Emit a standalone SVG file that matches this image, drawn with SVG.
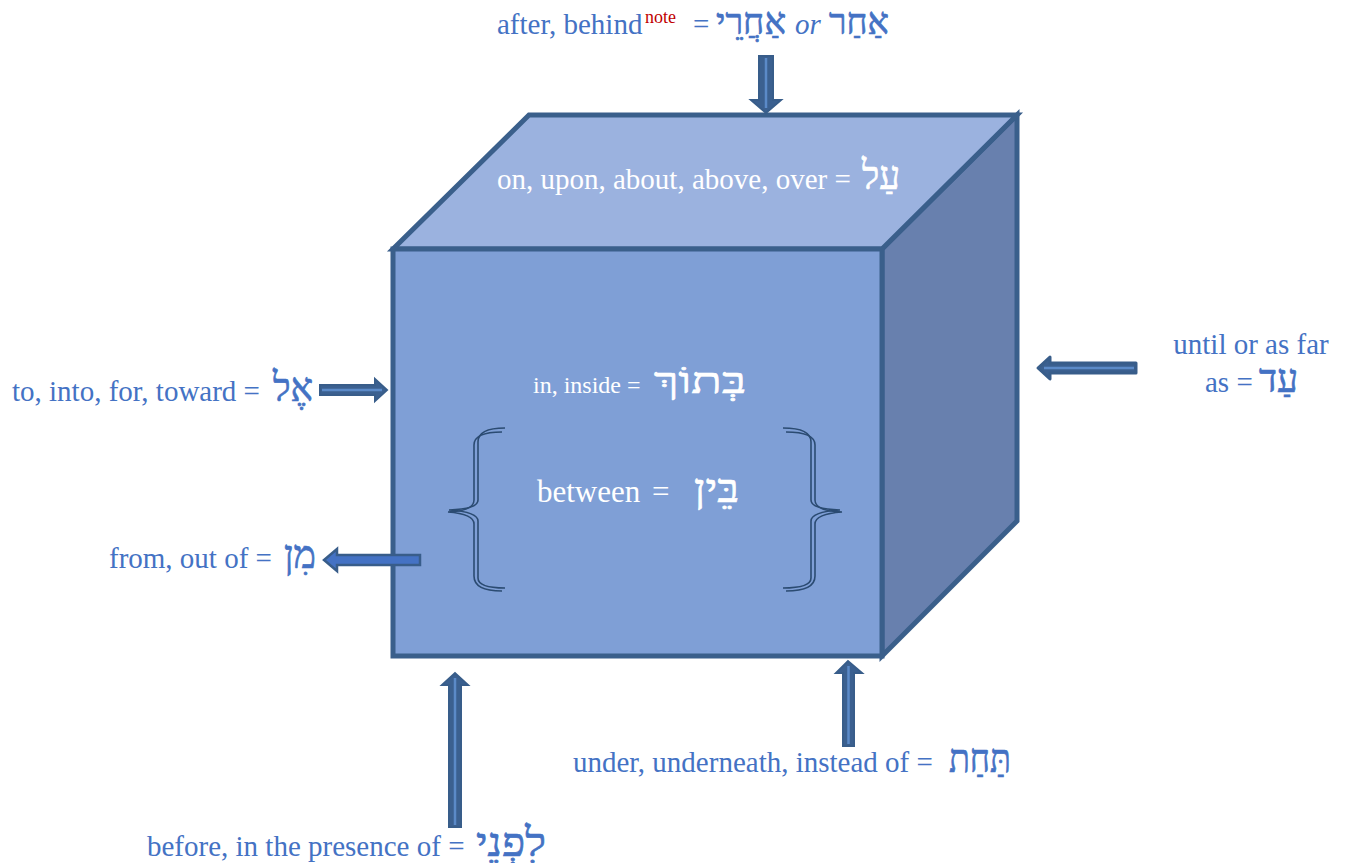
<svg xmlns="http://www.w3.org/2000/svg" width="1347" height="863" viewBox="0 0 1347 863">
  <style>
    .lbl { font-family: "Liberation Serif", "Times New Roman", serif; font-size: 29px; fill: #4472C4; }
    .in { font-family: "Liberation Serif", "Times New Roman", serif; font-size: 29px; fill: #FFFFFF; }
    .heb { font-family: "Liberation Serif", "DejaVu Serif", serif; font-size: 40px; stroke-width: 0.7; }
    .lbl.heb { stroke: #4472C4; }
    .in.heb { stroke: #FFFFFF; }
    .face { stroke: #3A5F8B; stroke-width: 5; stroke-linejoin: miter; }
    .arrow { fill: #3B6090; stroke: #385D8A; stroke-width: 2; stroke-linejoin: miter; }
    .core { stroke: #5B8AC8; stroke-width: 2.5; fill: none; }
    .brace { fill: none; stroke: #2B4B72; stroke-width: 1.6; }
  </style>
  <rect width="1347" height="863" fill="#FFFFFF"/>

  <!-- the cube -->
  <g id="cube">
    <polygon class="face" points="882,249 1017,115 1017,521 882,656" fill="#6880AE"/>
    <polygon class="face" points="393,249 529,115 1017,115 882,249" fill="#9BB2DF"/>
    <rect class="face" x="393" y="249" width="489" height="407" fill="#7F9FD6"/>
  </g>

  <!-- labels on the cube -->
  <g id="top-face">
    <text class="in" x="497" y="189">on, upon, about, above, over =</text>
    <text class="in heb" x="900" y="189" text-anchor="end" textLength="38" lengthAdjust="spacingAndGlyphs">עַל</text>
  </g>
  <g id="inside">
    <text class="in" x="533" y="393" style="font-size:24px">in, inside =</text>
    <text class="in heb" x="746" y="393" text-anchor="end" textLength="92" lengthAdjust="spacingAndGlyphs" style="font-size:36px">בְּתוֹךְ</text>
  </g>
  <g id="between">
    <path class="brace" d="M505,428 Q478,428 478,442 L478,500 Q478,509 449,510 Q478,512 478,521 L478,578 Q478,588 505,588"/>
    <path class="brace" d="M502,432 Q474,432 474,445 L474,500 Q474,511 448,512 Q474,514 474,524 L474,576 Q474,591 502,591"/>
    <path class="brace" d="M783,428 Q811,428 811,442 L811,500 Q811,509 840,510 Q811,512 811,521 L811,578 Q811,588 783,588"/>
    <path class="brace" d="M786,432 Q815,432 815,445 L815,500 Q815,511 842,512 Q815,514 815,524 L815,576 Q815,591 786,591"/>
    <text class="in" x="537" y="502" style="font-size:31px">between</text>
    <text class="in" x="652" y="502" style="font-size:31px">=</text>
    <text class="in heb" x="739" y="502" text-anchor="end" textLength="45" lengthAdjust="spacingAndGlyphs">בֵּין</text>
  </g>

  <!-- connectors -->
  <g id="connectors">
    <!-- down onto the top face -->
    <polygon class="arrow" points="759,56 773,56 773,100 781,100 766,113 751,100 759,100"/>
    <line class="core" x1="766" y1="58" x2="766" y2="108"/>
    <!-- into the front face -->
    <polygon class="arrow" points="320,385 375,385 375,379 387,390 375,401 375,395 320,395"/>
    <line class="core" x1="322" y1="390" x2="382" y2="390"/>
    <!-- out of the front face -->
    <polygon class="arrow" points="420,555 337,555 337,549 324,560 337,571 337,565 420,565" style="fill:#4472C4;stroke-width:2.5"/>
    <!-- toward the right face -->
    <path class="arrow" d="M1136,363 L1050,363 L1050,357 L1038,368 L1050,379 L1050,373 L1136,373 Z" style="stroke-linejoin:round;stroke-width:3"/>
    <line class="core" x1="1134" y1="368" x2="1044" y2="368"/>
    <!-- up from below, front -->
    <polygon class="arrow" points="449,827 461,827 461,685 468,685 455,673 442,685 449,685"/>
    <line class="core" x1="455" y1="825" x2="455" y2="678"/>
    <!-- up from below, under -->
    <polygon class="arrow" points="843,746 854,746 854,673 862,673 848,661 836,673 843,673"/>
    <line class="core" x1="848.5" y1="744" x2="848.5" y2="666"/>
  </g>

  <!-- outer labels -->
  <g id="after">
    <text class="lbl" x="497" y="34">after, behind</text>
    <text x="645" y="23" style="font-family:'Liberation Serif',serif;font-size:18px;fill:#C00000">note</text>
    <text class="lbl" x="693" y="34">=</text>
    <text class="lbl heb" x="786" y="34" text-anchor="end" textLength="70" lengthAdjust="spacingAndGlyphs" style="font-size:37px">אַחֲרֵי</text>
    <text class="lbl" x="795" y="34" style="font-style:italic">or</text>
    <text class="lbl heb" x="889" y="34" text-anchor="end" textLength="60" lengthAdjust="spacingAndGlyphs" style="font-size:37px">אַחַר</text>
  </g>
  <g id="to">
    <text class="lbl" x="12" y="401">to, into, for, toward =</text>
    <text class="lbl heb" x="313" y="401" text-anchor="end" textLength="40" lengthAdjust="spacingAndGlyphs">אֶל</text>
  </g>
  <g id="from">
    <text class="lbl" x="109" y="568">from, out of =</text>
    <text class="lbl heb" x="316" y="568" text-anchor="end" textLength="32" lengthAdjust="spacingAndGlyphs">מִן</text>
  </g>
  <g id="until">
    <text class="lbl" x="1251" y="354" text-anchor="middle">until or as far</text>
    <text class="lbl" x="1205" y="392">as =</text>
    <text class="lbl heb" x="1298" y="392" text-anchor="end" textLength="39" lengthAdjust="spacingAndGlyphs">עַד</text>
  </g>
  <g id="under">
    <text class="lbl" x="573" y="772">under, underneath, instead of =</text>
    <text class="lbl heb" x="1011" y="772" text-anchor="end" textLength="62" lengthAdjust="spacingAndGlyphs">תַּחַת</text>
  </g>
  <g id="before">
    <text class="lbl" x="147" y="856">before, in the presence of =</text>
    <text class="lbl heb" x="546" y="856" text-anchor="end" textLength="70" lengthAdjust="spacingAndGlyphs">לִפְנֵי</text>
  </g>
</svg>
